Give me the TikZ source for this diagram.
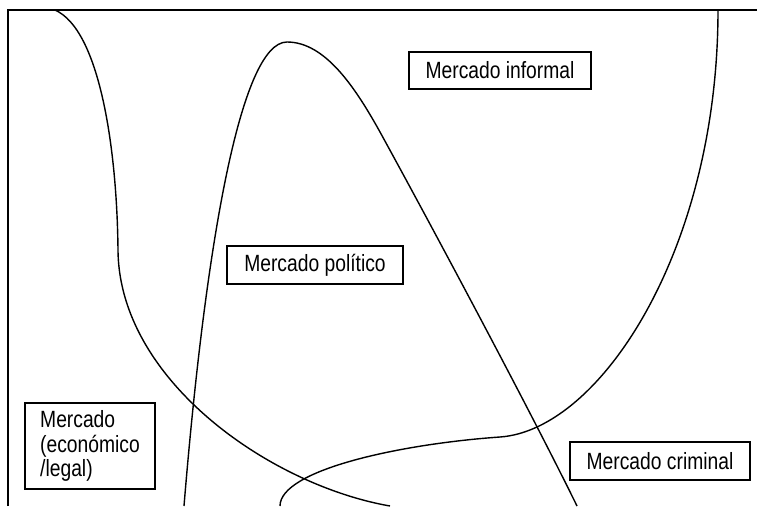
\documentclass[tikz,border=0pt]{standalone}
\usepackage{fontspec}
\setmainfont[FakeStretch=0.82]{Liberation Sans}

\begin{document}
\begin{tikzpicture}[x=1pt,y=-1pt,line width=1.4pt,
  mkt/.style={draw,line width=1.3pt,font=\fontsize{23.5}{24.5}\selectfont,inner sep=0pt}]
       \useasboundingbox (0,0) rectangle (757,506);

       % frame (top and left only)
       \draw (8,506) -- (8,10) -- (757,10);

       % legal market
       \draw (55,10) .. controls (100,30) and (117,150) .. (118,250)
                     .. controls (119,380) and (270,485) .. (390,506);

       % political market
       \draw (184,506) .. controls (205,250) and (240,42) .. (287,42)
                       .. controls (325,42) and (355,87) .. (380,132)
                       .. controls (430,223) and (530,410) .. (577,506);

       % informal market
       \draw (718,10) .. controls (718,250) and (600,430) .. (500,437)
                      .. controls (400,444) and (280,470) .. (280,506);

       \node[mkt,minimum width=182pt,minimum height=37pt](informal) at (500,70.5) {Mercado informal};
       \node[mkt,minimum width=176pt,minimum height=38pt](politico) at (315,265) {Mercado político};
       \node[mkt,minimum width=180pt,minimum height=38pt](criminal) at (660,461) {Mercado criminal};
       \node[mkt,align=left,minimum width=130pt,minimum height=86pt](legal) at (90,446)
             {Mercado\\(económico\\/legal)};
\end{tikzpicture}
\end{document}
